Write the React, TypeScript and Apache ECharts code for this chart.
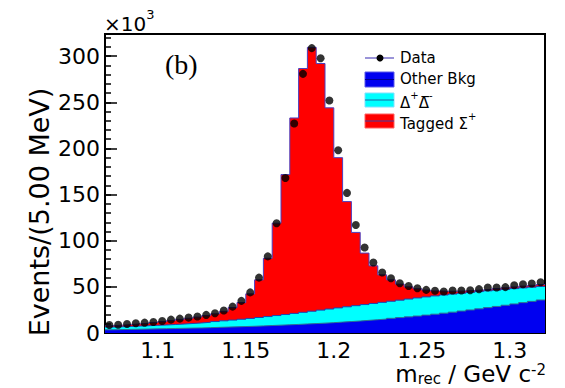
import React, { useEffect, useRef } from "react";
import * as echarts from "echarts";

// Histogram binning (GeV): 50 bins of 5 MeV
const X_MIN = 1.07;
const X_MAX = 1.32;
const BIN_WIDTH = 0.005;
const xTickLabels = [1.1, 1.15, 1.2, 1.25, 1.3];
const Y_MAX = 324; // ×10^3

// Data points (×10^3 events per bin)
const dataEvents = [
  8.7, 9.0, 9.8, 10.5, 11.2, 12.0, 13.0, 14.5, 15.6, 16.7,
  17.8, 19.6, 21.4, 24.3, 28.6, 34.8, 44.0, 60.0, 83.0, 119.0,
  168.0, 227.0, 280.8, 308.7, 297.8, 252.0, 198.0, 151.8, 117.0, 92.7,
  76.4, 65.5, 59.4, 54.0, 51.0, 48.5, 46.7, 45.8, 44.9, 46.0,
  46.0, 46.4, 47.5, 49.3, 49.3, 49.7, 51.8, 52.9, 53.6, 55.0,
];

// Other background component (×10^3)
const otherBkg = [
  3.5, 3.7, 3.9, 4.1, 4.3, 4.5, 4.7, 4.9, 5.1, 5.3,
  5.5, 5.8, 6.1, 6.4, 6.7, 7.0, 7.3, 7.7, 8.1, 8.5,
  8.9, 9.3, 9.8, 10.2, 10.7, 11.2, 11.8, 12.4, 13.0, 13.7,
  14.4, 15.1, 15.9, 16.7, 17.5, 18.4, 19.4, 20.4, 21.5, 22.6,
  23.8, 25.0, 26.2, 27.5, 28.8, 30.1, 31.5, 32.9, 34.3, 35.8,
];

// Delta+ anti-Delta- component (×10^3)
const deltaBkg = [
  3.0, 3.1, 3.2, 3.4, 3.6, 3.8, 4.0, 4.3, 4.6, 5.0,
  5.4, 5.8, 6.3, 6.8, 7.3, 7.9, 8.5, 9.1, 9.7, 10.4,
  11.1, 11.9, 12.6, 13.4, 14.1, 14.8, 15.4, 16.0, 16.6, 17.1,
  17.6, 18.1, 18.5, 18.9, 19.3, 19.6, 19.7, 19.8, 19.7, 19.6,
  19.3, 19.0, 18.7, 18.2, 17.7, 17.2, 16.6, 16.0, 15.4, 14.7,
];

// Tagged Sigma+ signal component (×10^3)
const taggedSigma = [
  1.5, 1.7, 2.1, 2.4, 2.7, 3.1, 3.7, 4.4, 5.1, 5.7,
  6.4, 7.3, 8.4, 10.3, 13.6, 18.1, 26.6, 40.8, 63.2, 100.1,
  151.7, 211.8, 264.2, 285.9, 267.2, 218.0, 162.8, 114.0, 79.4, 55.8,
  40.8, 29.8, 23.2, 17.4, 13.2, 10.0, 7.4, 5.4, 4.0, 3.1,
  2.5, 2.1, 1.8, 1.7, 1.7, 1.7, 1.8, 1.9, 2.0, 2.1,
];

const binCenters = dataEvents.map((_, i) => X_MIN + (i + 0.5) * BIN_WIDTH);

function stepPoints(values: number[]): number[][] {
  const pts: number[][] = [];
  values.forEach((v, i) => {
    pts.push([X_MIN + i * BIN_WIDTH, v]);
    pts.push([X_MIN + (i + 1) * BIN_WIDTH, v]);
  });
  return pts;
}

const FONT = "DejaVu Sans";

export default function App() {
  const ref = useRef<HTMLDivElement>(null);

  useEffect(() => {
    if (!ref.current) return;
    const chart = echarts.init(ref.current, null, { renderer: "svg" });

    const blueTop = otherBkg.slice();
    const cyanTop = otherBkg.map((v, i) => v + deltaBkg[i]);
    const total = cyanTop.map((v, i) => v + taggedSigma[i]);

    const histSeries = (name: string, vals: number[], fill: string, line: string) => ({
      name,
      type: "line",
      data: stepPoints(vals),
      showSymbol: false,
      symbol: "none",
      silent: true,
      lineStyle: { color: line, width: 1 },
      areaStyle: { color: fill, opacity: 1 },
    });

    const option: any = {
      animation: false,
      grid: {
        left: 105,
        right: 20,
        top: 34,
        bottom: 55,
        show: true,
        borderColor: "#000",
        borderWidth: 2,
        backgroundColor: "transparent",
      },
      xAxis: {
        type: "value",
        min: X_MIN,
        max: X_MAX,
        axisLine: { show: true, lineStyle: { color: "#000", width: 2 } },
        axisTick: { show: false },
        splitLine: { show: false },
        axisLabel: {
          customValues: xTickLabels,
          color: "#000",
          fontFamily: FONT,
          fontSize: 22,
          margin: 6,
          formatter: (v: number) => String(+v.toFixed(2)),
        },
      },
      yAxis: [
        {
          type: "value",
          min: 0,
          max: Y_MAX,
          interval: 50,
          position: "left",
          axisLine: { show: true, lineStyle: { color: "#000", width: 2 } },
          axisTick: { show: true, inside: true, length: 12, lineStyle: { color: "#000", width: 1.5 } },
          splitLine: { show: false },
          axisLabel: {
            color: "#000",
            fontFamily: FONT,
            fontSize: 22,
            margin: 5,
            showMaxLabel: false,
          },
        },
        {
          type: "value",
          min: 0,
          max: Y_MAX,
          interval: 10,
          position: "left",
          offset: 0,
          axisLine: { show: false },
          axisTick: { show: true, inside: true, length: 6, lineStyle: { color: "#000", width: 1.5 } },
          splitLine: { show: false },
          axisLabel: { show: false },
        },
      ],
      series: [
        histSeries("Tagged Σ+", total, "#ff0000", "#4b3fc0"),
        histSeries("Δ+Δ-", cyanTop, "#00ffff", "#2040b0"),
        histSeries("Other Bkg", blueTop, "#0000f0", "#2f7090"),
        {
          name: "Data",
          type: "scatter",
          data: binCenters.map((x, i) => [x, dataEvents[i]]),
          symbol: "circle",
          symbolSize: 8,
          itemStyle: { color: "#000" },
          z: 10,
          silent: true,
        },
      ],
      graphic: [
        {
          type: "text",
          x: 104,
          y: 8,
          style: {
            text: "{a|×10}{s|3}",
            fill: "#000",
            rich: {
              a: { fontFamily: FONT, fontSize: 20, fill: "#000", verticalAlign: "bottom", lineHeight: 26 },
              s: { fontFamily: FONT, fontSize: 13, fill: "#000", verticalAlign: "top", lineHeight: 26 },
            },
          },
        },
        {
          type: "text",
          x: 165,
          y: 64,
          style: {
            text: "(b)",
            fontFamily: "Liberation Serif",
            fontSize: 28,
            fill: "#000",
            verticalAlign: "middle",
          },
        },
        {
          type: "text",
          x: 39,
          y: 212,
          rotation: Math.PI / 2,
          style: {
            text: "Events/(5.00 MeV)",
            fontFamily: FONT,
            fontSize: 27,
            fill: "#000",
            align: "center",
            verticalAlign: "middle",
          },
        },
        {
          type: "text",
          x: 546,
          y: 374,
          style: {
            text: "{a|m}{b|rec}{a| / GeV c}{s|-2}",
            align: "right",
            verticalAlign: "middle",
            fill: "#000",
            rich: {
              a: { fontFamily: FONT, fontSize: 23, fill: "#000", verticalAlign: "middle", lineHeight: 24 },
              b: { fontFamily: FONT, fontSize: 15, fill: "#000", verticalAlign: "bottom", lineHeight: 24 },
              s: { fontFamily: FONT, fontSize: 15, fill: "#000", verticalAlign: "top", lineHeight: 24 },
            },
          },
        },
        // Legend
        { type: "line", shape: { x1: 365, y1: 58, x2: 394, y2: 58 }, style: { stroke: "#9a94d8", lineWidth: 2 } },
        { type: "circle", shape: { cx: 380, cy: 58, r: 3.5 }, style: { fill: "#000" } },
        { type: "text", x: 400, y: 58, style: { text: "Data", fontFamily: FONT, fontSize: 15, fill: "#000", verticalAlign: "middle" } },

        { type: "rect", shape: { x: 365, y: 72, width: 29, height: 15 }, style: { fill: "#0000f0", stroke: "#5a5ae8", lineWidth: 1 } },
        { type: "line", shape: { x1: 365, y1: 79.5, x2: 394, y2: 79.5 }, style: { stroke: "#00008a", lineWidth: 1 } },
        { type: "text", x: 400, y: 79, style: { text: "Other Bkg", fontFamily: FONT, fontSize: 15, fill: "#000", verticalAlign: "middle" } },

        { type: "rect", shape: { x: 365, y: 93, width: 29, height: 14 }, style: { fill: "#00ffff", stroke: "#80e0ff", lineWidth: 1 } },
        { type: "line", shape: { x1: 365, y1: 100, x2: 394, y2: 100 }, style: { stroke: "#2060a0", lineWidth: 1 } },
        {
          type: "text",
          x: 400,
          y: 100,
          style: {
            text: "{a|Δ}{s|+}{a|Δ\u0305}{s|-}",
            fill: "#000",
            verticalAlign: "middle",
            rich: {
              a: { fontFamily: FONT, fontSize: 15, fill: "#000", verticalAlign: "bottom", lineHeight: 20 },
              s: { fontFamily: FONT, fontSize: 10, fill: "#000", verticalAlign: "top", lineHeight: 20 },
            },
          },
        },

        { type: "rect", shape: { x: 365, y: 114, width: 29, height: 14 }, style: { fill: "#ff0000", stroke: "#ff6060", lineWidth: 1 } },
        { type: "line", shape: { x1: 365, y1: 121, x2: 394, y2: 121 }, style: { stroke: "#4040a0", lineWidth: 1 } },
        {
          type: "text",
          x: 400,
          y: 121,
          style: {
            text: "{a|Tagged Σ}{s|+}",
            fill: "#000",
            verticalAlign: "middle",
            rich: {
              a: { fontFamily: FONT, fontSize: 15, fill: "#000", verticalAlign: "bottom", lineHeight: 20 },
              s: { fontFamily: FONT, fontSize: 10, fill: "#000", verticalAlign: "top", lineHeight: 20 },
            },
          },
        },
      ],
    };

    chart.setOption(option);
    return () => chart.dispose();
  }, []);

  return (
    <div
      ref={ref}
      style={{ position: "fixed", left: 0, top: 0, width: 565, height: 388, background: "#fff" }}
    />
  );
}
